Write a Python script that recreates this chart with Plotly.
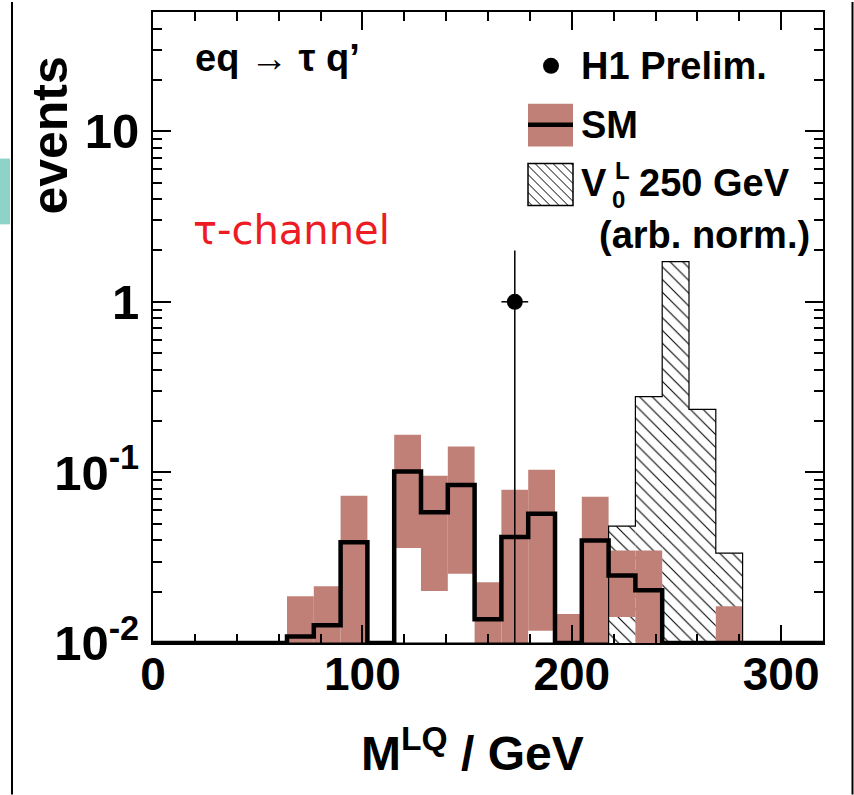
import math
import plotly.graph_objects as go

# ---- histogram binning: 25 bins of 12.8 GeV between 0 and 320 GeV ----
bin_width = 12.8
n_bins = 25
bin_edges = [bin_width * i for i in range(n_bins + 1)]
bin_centers = [bin_width * (i + 0.5) for i in range(n_bins)]

# SM expectation per bin (central value) and its uncertainty band
sm_central = [0, 0, 0, 0, 0, 0.0109, 0.0127, 0.039, 0, 0.1014, 0.0584, 0.0844, 0.0138,
              0.0418, 0.0572, 0, 0.0399, 0.0249, 0.0204, 0, 0, 0, 0, 0, 0]
sm_upper = [0, 0, 0, 0, 0, 0.0188, 0.0215, 0.0731, 0, 0.166, 0.0957, 0.142, 0.0227,
            0.0792, 0.1037, 0.0148, 0.0721, 0.0349, 0.0349, 0, 0, 0.0164, 0, 0, 0]
sm_lower = [0, 0, 0, 0, 0, 0, 0, 0, 0, 0.0360, 0.0202, 0.0255, 0,
            0, 0.0118, 0, 0, 0.0142, 0, 0, 0, 0, 0, 0, 0]

# V0L leptoquark signal, 250 GeV (arbitrary normalisation)
lq_signal = [0, 0, 0, 0, 0, 0, 0, 0, 0, 0, 0, 0, 0,
             0, 0, 0, 0, 0.0484, 0.278, 1.72, 0.234, 0.0336, 0, 0, 0]

# H1 preliminary data
data_mass = [172.8]
data_events = [1]
data_err_y = [1]
data_err_x = [6.4]

# axis settings
x_range = [0, 320]
y_min, y_max = 0.01, 50
x_major = [0, 100, 200, 300]
y_major = [0.01, 0.1, 1, 10]
y_major_text = ["10<sup>-2</sup>", "10<sup>-1</sup>", "1", "10"]

# ---- page geometry ----
W, H = 854, 795
L, R, T, B = 153, 823, 10, 643
FONT = "Liberation Sans, Arial, Helvetica, sans-serif"
BAND = "rgb(192,128,119)"


def px(x):
    return (x - L) / (R - L)


def py(y):
    return (B - y) / (B - T)


floor = 1e-4  # bars start below the visible range


def step_y(values):
    vals = [v if v > 0 else y_min for v in values]
    return vals + [vals[-1]]


fig = go.Figure()

# signal histogram, hatched
sig_base = [floor if v > 0 else None for v in lq_signal]
sig_len = [(v - floor) if v > 0 else None for v in lq_signal]
fig.add_trace(go.Bar(
    x=bin_centers, y=sig_len, base=sig_base, width=bin_width,
    marker=dict(color="white", line=dict(width=0),
                pattern=dict(shape="\\", fgcolor="black", bgcolor="white",
                             size=9, solidity=0.12, fillmode="replace")),
    showlegend=False, hoverinfo="skip"))

# SM uncertainty band
band_base = []
band_len = []
for up, lo in zip(sm_upper, sm_lower):
    if up > 0:
        b = lo if lo > 0 else floor
        band_base.append(b)
        band_len.append(up - b)
    else:
        band_base.append(None)
        band_len.append(None)
fig.add_trace(go.Bar(
    x=bin_centers, y=band_len, base=band_base, width=bin_width,
    marker=dict(color=BAND, line=dict(width=0)),
    showlegend=False, hoverinfo="skip"))

# signal outline
fig.add_trace(go.Scatter(
    x=bin_edges, y=step_y(lq_signal), mode="lines",
    line=dict(color="black", width=1.2, shape="hv"),
    showlegend=False, hoverinfo="skip"))

# SM central histogram
fig.add_trace(go.Scatter(
    x=bin_edges, y=step_y(sm_central), mode="lines",
    line=dict(color="black", width=4.5, shape="hv"),
    showlegend=False, hoverinfo="skip"))

# data point
fig.add_trace(go.Scatter(
    x=data_mass, y=data_events, mode="markers",
    marker=dict(color="black", size=16, symbol="circle"),
    error_y=dict(type="data", array=data_err_y, arrayminus=[e - floor * 0.1 for e in data_err_y],
                 color="black", thickness=1.5, width=0),
    error_x=dict(type="data", array=data_err_x, color="black", thickness=1.5, width=0),
    showlegend=False, hoverinfo="skip"))

# empty trace that carries the top / right tick axes
fig.add_trace(go.Scatter(x=[None], y=[None], xaxis="x2", yaxis="y2",
                         mode="markers", showlegend=False, hoverinfo="skip"))

x_minor = [v for v in range(20, 321, 20) if v % 100 != 0]
y_minor = []
for d in range(-2, 2):
    for k in range(2, 10):
        v = k * 10 ** d
        if v < y_max:
            y_minor.append(v)

tick_style = dict(ticks="inside", ticklen=18, tickwidth=2, tickcolor="black",
                  showline=True, linewidth=2, linecolor="black",
                  showgrid=False, zeroline=False)
minor_style = dict(tickmode="array", ticks="inside", ticklen=9, tickwidth=2,
                   tickcolor="black", showgrid=False)

x_common = dict(range=x_range, tickmode="array", tickvals=x_major, **tick_style)
y_common = dict(type="log", range=[math.log10(y_min), math.log10(y_max)],
                tickmode="array", tickvals=y_major, ticktext=y_major_text, **tick_style)

fig.update_layout(
    xaxis=dict(**x_common, mirror=True,
               tickfont=dict(family=FONT, size=46, color="black", weight="bold"),
               ticklabelstandoff=-10,
               minor=dict(tickvals=x_minor, **minor_style)),
    yaxis=dict(**y_common, mirror=True,
               tickfont=dict(family=FONT, size=49, color="black", weight="bold"),
               ticklabelstandoff=2,
               minor=dict(tickvals=y_minor, **minor_style)),
    xaxis2=dict(**x_common, overlaying="x", side="top", anchor="y",
                showticklabels=False,
                minor=dict(tickvals=x_minor, **minor_style)),
    yaxis2=dict(**y_common, overlaying="y", side="right", anchor="x",
                showticklabels=False,
                minor=dict(tickvals=y_minor, **minor_style)),
)

shapes = []
annotations = []

# page decorations at the left and right edges
shapes.append(dict(type="rect", xref="paper", yref="paper",
                   x0=px(0), x1=px(10), y0=py(223), y1=py(157),
                   fillcolor="rgb(142,211,199)", line=dict(width=0), layer="above"))
shapes.append(dict(type="line", xref="paper", yref="paper",
                   x0=px(12), x1=px(12), y0=py(0), y1=py(795),
                   line=dict(color="black", width=2)))
shapes.append(dict(type="line", xref="paper", yref="paper",
                   x0=px(852.5), x1=px(852.5), y0=py(0), y1=py(795),
                   line=dict(color="black", width=2)))

# legend: data marker
shapes.append(dict(type="circle", xref="paper", yref="paper",
                   x0=px(543), x1=px(559), y0=py(72), y1=py(56),
                   fillcolor="black", line=dict(color="black", width=0)))
# legend: SM band + line
shapes.append(dict(type="rect", xref="paper", yref="paper",
                   x0=px(528), x1=px(573), y0=py(145), y1=py(102),
                   fillcolor=BAND, line=dict(width=0)))
shapes.append(dict(type="line", xref="paper", yref="paper",
                   x0=px(528), x1=px(573), y0=py(123), y1=py(123),
                   line=dict(color="black", width=4.5)))
# legend: hatched box
bx0, by0, bw, bh = 528, 162, 45, 42
shapes.append(dict(type="rect", xref="paper", yref="paper",
                   x0=px(bx0), x1=px(bx0 + bw), y0=py(by0 + bh), y1=py(by0),
                   fillcolor="white", line=dict(color="black", width=1.5)))
for c in range(-bh + 4, bw, 9):
    u0, u1 = max(0, c), min(bw, bh + c)
    if u1 - u0 < 1:
        continue
    shapes.append(dict(type="line", xref="paper", yref="paper",
                       x0=px(bx0 + u0), y0=py(by0 + u0 - c),
                       x1=px(bx0 + u1), y1=py(by0 + u1 - c),
                       line=dict(color="black", width=1)))


def text(s, x, y, size, xanchor="left", yanchor="middle", color="black", bold=True,
         family=FONT, angle=0):
    annotations.append(dict(
        text=s, x=px(x), y=py(y), xref="paper", yref="paper",
        xanchor=xanchor, yanchor=yanchor, showarrow=False, textangle=angle,
        borderpad=0,
        font=dict(family=family, size=size, color=color,
                  weight="bold" if bold else "normal")))


text("H1 Prelim.", 580, 64, 38)
text("SM", 580, 123, 38)
text("V", 580, 182, 38)
text("L", 614, 184, 24, yanchor="bottom")
text("0", 611, 184, 24, yanchor="top")
text("250 GeV", 638, 182, 38)
text("(arb. norm.)", 598, 234, 38)
text("eq → τ q’", 194, 56, 38)
text("τ-channel", 192, 229, 40, color="rgb(237,28,36)", bold=False,
     family="DejaVu Sans, sans-serif")

# axis titles
text("events", 50, 134, 50, xanchor="center", angle=-90)
text("M<sup>LQ</sup> / GeV", 472, 750, 48, xanchor="center")

fig.update_layout(
    width=W, height=H,
    margin=dict(l=L, r=W - R, t=T, b=H - B),
    paper_bgcolor="white", plot_bgcolor="white",
    barmode="overlay", showlegend=False,
    shapes=shapes, annotations=annotations,
)

fig.write_html("out.html")
